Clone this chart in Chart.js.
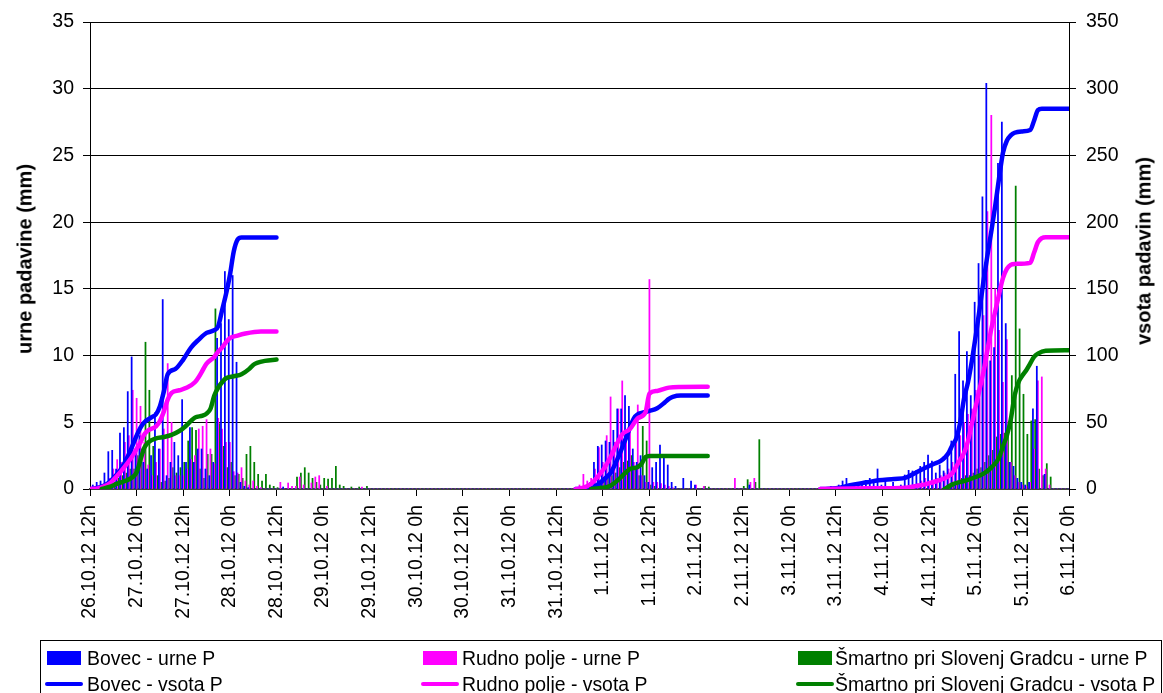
<!DOCTYPE html>
<html>
<head>
<meta charset="utf-8">
<script src="https://cdn.jsdelivr.net/npm/chart.js@4.4.1/dist/chart.umd.min.js"></script>
<style>
  html, body { margin: 0; padding: 0; background: #fff; }
  #wrap { position: relative; width: 1163px; height: 693px; overflow: hidden; background: #fff; }
  #c { position: absolute; left: 0; top: 0; }
  .vt { position: absolute; font: bold 20px "Liberation Sans", Arial, sans-serif; color: #000; white-space: nowrap;
        transform: translate(-50%, -50%) rotate(-90deg); }
  #legend { position: absolute; left: 40px; top: 640px; width: 1122px; height: 60px; border: 1px solid #000;
            box-sizing: border-box; font-family: "Liberation Sans", Arial, sans-serif; font-size: 19.4px; color: #000; }
  .li { position: absolute; white-space: nowrap; line-height: 20px; }
  .sw { position: absolute; }
</style>
</head>
<body>
<div id="wrap">
  <canvas id="c" width="1163" height="693"></canvas>
  <div class="vt" id="ytitle" style="left:25px; top:259px;"></div>
  <div class="vt" id="y2title" style="left:1144px; top:251px;"></div>
  <div id="legend"></div>
</div>
<script>
// ---------- DATA ----------
const tickLabels = ['26.10.12 12h','27.10.12 0h','27.10.12 12h','28.10.12 0h','28.10.12 12h','29.10.12 0h',
  '29.10.12 12h','30.10.12 0h','30.10.12 12h','31.10.12 0h','31.10.12 12h','1.11.12 0h','1.11.12 12h',
  '2.11.12 0h','2.11.12 12h','3.11.12 0h','3.11.12 12h','4.11.12 0h','4.11.12 12h','5.11.12 0h',
  '5.11.12 12h','6.11.12 0h'];

const seriesNames = ['Bovec - urne P','Rudno polje - urne P','Šmartno pri Slovenj Gradcu - urne P',
  'Bovec - vsota P','Rudno polje - vsota P','Šmartno pri Slovenj Gradcu - vsota P'];

const leftTitle = 'urne padavine (mm)';
const rightTitle = 'vsota padavin (mm)';

// hourly precipitation (mm), one value per hour from 26.10.12 12h to 6.11.12 0h
const bovecHourly = [
  0,0.3,0.5,0.6,1.2,2.8,2.9,1.5,4.2,4.6,7.3,9.9,
  3.0,4.0,2.0,1.5,2.5,5.7,3.0,14.2,1.0,2.0,3.5,2.5,
  6.7,2.0,4.6,2.0,3.0,3.0,1.5,1.0,2.0,11.3,12.4,16.3,
  12.7,16.0,9.5,0.5,0.2,0.1,0,0,0,0,0,0,
  0,0,0.15,0,0,0,0,0,0,0,0,0,
  0,0,0,0,0,0,0,0,0,0,0,0,
  0,0,0,0,0,0,0,0,0,0,0,0,
  0,0,0,0,0,0,0,0,0,0,0,0,
  0,0,0,0,0,0,0,0,0,0,0,0,
  0,0,0,0,0,0,0,0,0,0,0,0,
  0,0,0,0,0,0,0,0,0.2,0.5,2.0,3.2,
  3.3,3.6,3.5,4.4,6.0,6.0,7.0,6.2,3.0,2.0,2.5,1.0,
  0.5,1.6,2.0,3.3,2.4,1.8,0.5,0.2,0,0.8,0,0.6,
  0.3,0,0,0,0,0,0,0,0,0,0,0,
  0,0,0.3,0,0,0,0,0,0,0,0,0,
  0,0,0,0,0,0,0,0,0,0.1,0.1,0.2,
  0,0.3,0.6,0.8,0.3,0.2,0.3,0.4,0.65,0.8,0.7,1.5,
  0.3,0.6,0.2,0.5,0.2,0.3,1.05,1.4,1.35,1.4,1.7,2.0,
  2.55,2.1,1.2,1.8,1.35,2.5,3.6,8.6,11.8,8.1,10.3,7.0,
  14.0,16.9,21.9,30.4,9.6,10.6,24.4,27.5,12.4,2.0,1.7,0.8,
  0.5,0.3,0.5,6.0,9.2,0,1.1,0,0,0,0,0,
  0
];
const rudnoHourly = [
  0,0.1,0.2,0.3,0.4,0.8,1.5,2.2,2.0,3.5,4.0,7.4,
  6.8,6.2,3.5,1.8,1.0,2.0,3.0,4.5,9.4,5.0,1.0,1.0,
  1.0,1.5,2.2,2.5,4.5,4.7,5.2,3.0,1.9,5.3,4.5,3.5,
  3.5,1.3,1.2,1.6,0.6,0.3,0.6,0.2,0.1,0,0,0,
  0,0.5,0,0.45,0.2,0.2,0.9,0.3,0,0.45,0.9,1.0,
  0,0.2,0,0,0,0,0,0,0,0,0.15,0,
  0,0,0,0,0,0,0,0,0,0,0,0,
  0,0,0,0,0,0,0,0,0,0,0,0,
  0,0,0,0,0,0,0,0,0,0,0,0,
  0,0,0,0,0,0,0,0,0,0,0,0,
  0,0,0,0,0,0,0.3,1.1,0.6,0.8,1.5,3.1,
  2.0,4.0,6.9,3.5,6.0,8.1,4.0,4.5,2.0,6.3,1.0,0.5,
  15.7,0.5,0.5,0.4,0.3,0.2,0.1,0,0,0,0,0,
  0.3,0,0.2,0,0,0,0,0,0,0,0.8,0,
  0,0,0.5,0.8,0,0,0,0,0,0,0,0,
  0,0,0,0,0,0,0,0,0,0,0,0,
  0,0,0,0,0,0,0,0,0,0,0,0,
  0,0,0,0,0,0,0,0.2,0.3,0.4,0.6,0.8,
  0.6,0.5,0.8,1.0,1.2,1.5,2.0,3.5,4.0,5.0,5.6,6.0,
  7.4,10.0,13.0,20.8,28.0,15.0,11.9,8.0,11.2,2.0,1.0,0.5,
  0.3,0.2,0.5,3.0,8.1,8.4,1.5,0.3,0,0,0,0,
  0
];
const smartnoHourly = [
  0,0,0,0,0.2,0.3,0.5,0.8,1.0,1.2,1.5,1.5,
  2.5,3.0,11.0,7.4,3.2,1.0,0.5,0.6,0.8,1.6,1.2,1.6,
  2.0,3.6,4.6,4.4,1.5,0.8,2.6,2.6,13.5,4.9,3.2,1.6,
  2.0,1.0,1.1,0.8,2.6,3.2,2.0,1.1,0.6,1.1,0.3,0.2,
  0.1,0,0,0,0,0.9,1.2,1.6,1.2,0.8,0.5,0.3,
  0.8,0.75,0.8,1.7,0.3,0.2,0,0.15,0,0.15,0,0.2,
  0,0,0,0,0,0,0,0,0,0,0,0,
  0,0,0,0,0,0,0,0,0,0,0,0,
  0,0,0,0,0,0,0,0,0,0,0,0,
  0,0,0,0,0,0,0,0,0,0,0,0,
  0,0,0,0,0,0,0,0,0,0,0,0.3,
  0.5,0.8,1.0,1.2,1.6,2.0,2.1,2.5,1.6,1.0,4.7,3.6,
  0.3,0.2,0,0,0,0,0,0,0,0,0,0,
  0,0,0.2,0.15,0,0,0,0,0,0,0,0,
  0.2,0.7,0,0.5,3.7,0,0,0,0,0,0,0,
  0,0,0,0,0,0,0,0,0,0,0,0,
  0,0,0,0,0,0,0,0,0,0,0,0,
  0,0,0,0,0,0,0,0,0,0,0,0,
  0,0,0,0,0,0.3,0.5,0.6,0.8,1.0,1.0,1.2,
  1.5,1.6,2.0,2.5,2.9,3.9,4.1,4.2,4.4,8.5,22.7,12.0,
  7.1,4.1,5.1,5.2,1.5,1.0,1.9,0.9,0,0,0,0,
  0
];

// cumulative precipitation (mm): [hour since 26.10.12 12h, value]; null = no line
const bovecSum = [
  [0,0],[2,1],[4,3],[6,8],[8,15],[10,26],[12,40],[13,46],[14,50],[16,54],[17,56],[18,62],[19,73],[20,86],
  [22,90],[24,97],[26,106],[28,112],[30,117],[32,119],[33,122],[34,134],[35,146],[36,160],[37,178],
  [38,187],[39,188.5],[48,188.5],[86,null],
  [125,0],[129,0.5],[131,4],[133,9],[134,12],[136,24],[138,38.5],[140,53],[141,56],[142,57],[144,58.5],
  [146,60.5],[148,65],[149,67.5],[150,69],[152,70],[159,70],[170,null],
  [188,0],[192,0.5],[196,3],[200,5],[203,6.5],[207,7.5],[210,8.5],[213,13],[217,18.5],[219,21],[220,23.5],
  [221,27],[222,33],[223,38],[224,50],[225,68],[226,80],[227,96],[228,115],[229,135],[230,156],[231,175],
  [232,193],[233,212],[234,233],[235,252],[236,261],[237,265],[238,267],[240,268],[242,269],[243,276],
  [244,284],[245,285],[252,285]
];
const rudnoSum = [
  [0,0],[2,0.5],[5,4],[7,10],[9,17],[11,25],[12,30],[13,35],[14,41],[15,44],[17,47],[18,51],[19,58],
  [20,67],[21,72],[23,74],[25,76],[27,80],[28,84],[29,89],[30,94],[32,99],[33,103],[34,106],[35,110],
  [36,113],[38,115],[40,116.5],[44,118],[48,118],[86,null],
  [125,0],[127,1],[129,4],[130,7],[132,14],[134,24],[135,30],[137,41],[139,45],[141,53],[143,57.5],
  [144,71.5],[146,73.5],[149,76],[152,76.5],[159,76.6],[170,null],
  [188,0],[200,0.5],[210,1],[213,2.5],[215,3.5],[218,6],[220,8],[222,12],[223,17],[224,22],[225,27],
  [226,36],[227,49],[228,62],[229,75],[230,88],[231,104],[232,120],[233,133],[234,146],[235,158],
  [236,165],[237,168],[238,168.7],[242,169.5],[243,177],[244,185],[245,188],[246,188.7],[252,188.7]
];
const smartnoSum = [
  [3,0],[5,1.5],[7,4],[9,6],[11,9],[12,12.5],[13,22],[14,31],[15,35],[17,38],[19,39],[21,40.5],[23,43.5],
  [24,45.5],[26,51],[27,53.5],[29,55],[30,56.5],[31,60],[32,70],[33,76],[34,80],[35,83],[37,84.5],
  [39,86],[41,90],[42,93],[43,94.5],[45,96],[48,97],[86,null],
  [129,0],[131,0.5],[134,2.5],[136,7],[139,15],[141,16.5],[142,19],[143,24],[144,24.8],[159,24.8],[170,null],
  [220,0],[222,3.5],[225,6],[228,9],[230,11.5],[232,16],[234,23.5],[235,32],[236,40],[237,52],[238,70],
  [239,80],[240,85],[241,89],[242,94],[243,99],[244,101.5],[246,103.6],[252,104]
];

// ---------- BUILD ----------
const BLUE = '#0000FF', MAGENTA = '#FF00FF', GREEN = '#008000';
const FONT = '"Liberation Sans", Arial, sans-serif';
const hours = bovecHourly.map((_, i) => i);
const toXY = arr => arr.map(([x, y]) => ({ x, y }));

document.getElementById('ytitle').textContent = leftTitle;
document.getElementById('y2title').textContent = rightTitle;

const barCommon = { type: 'bar', yAxisID: 'y', barThickness: 1.1, order: 10, borderWidth: 0 };
const lineCommon = { type: 'line', yAxisID: 'y2', borderWidth: 4.5, pointRadius: 0, fill: false,
  spanGaps: false, cubicInterpolationMode: 'monotone', borderCapStyle: 'round', borderJoinStyle: 'round' };

new Chart(document.getElementById('c'), {
  type: 'bar',
  data: {
    labels: hours,
    datasets: [
      { ...barCommon, label: seriesNames[0], data: bovecHourly, backgroundColor: BLUE },
      { ...barCommon, label: seriesNames[1], data: rudnoHourly, backgroundColor: MAGENTA },
      { ...barCommon, label: seriesNames[2], data: smartnoHourly, backgroundColor: GREEN },
      { ...lineCommon, label: seriesNames[3], data: toXY(bovecSum), borderColor: BLUE, order: 3 },
      { ...lineCommon, label: seriesNames[4], data: toXY(rudnoSum), borderColor: MAGENTA, order: 2 },
      { ...lineCommon, label: seriesNames[5], data: toXY(smartnoSum), borderColor: GREEN, order: 1 }
    ]
  },
  options: {
    responsive: false,
    animation: false,
    devicePixelRatio: 1,
    events: [],
    layout: { padding: { top: 22, left: 0, right: 0, bottom: 0 } },
    plugins: { legend: { display: false }, tooltip: { enabled: false }, title: { display: false } },
    scales: {
      x: {
        type: 'linear', min: 0, max: 252, offset: false,
        ticks: {
          stepSize: 12, autoSkip: false, maxRotation: 90, minRotation: 90, padding: 9, color: '#000',
          font: { family: FONT, size: 19.5 },
          callback: v => (v % 12 === 0 ? tickLabels[v / 12] : '')
        },
        grid: { display: true, offset: false, drawOnChartArea: false, drawTicks: true, tickLength: 7, color: '#000' },
        border: { display: true, color: '#444', width: 2 },
        afterFit: s => { s.height = 693 - 489; }
      },
      y: {
        position: 'left', min: 0, max: 35,
        ticks: { stepSize: 5, padding: 9, color: '#000', font: { family: FONT, size: 19.5 } },
        grid: { color: '#000', tickLength: 7, drawTicks: true },
        border: { display: true, color: '#000' },
        afterFit: s => { s.width = 90; }
      },
      y2: {
        position: 'right', min: 0, max: 350,
        ticks: { stepSize: 50, padding: 10, color: '#000', font: { family: FONT, size: 19.5 } },
        grid: { drawOnChartArea: false, tickLength: 7, drawTicks: true, color: '#000' },
        border: { display: true, color: '#000' },
        afterFit: s => { s.width = 94; }
      }
    }
  }
});

// ---------- LEGEND (HTML, real text) ----------
const legendColors = [BLUE, MAGENTA, GREEN, BLUE, MAGENTA, GREEN];
const colX = [6, 382, 757];
const textX = [46, 421, 794];
const rowY = [17, 43];
const legend = document.getElementById('legend');
seriesNames.forEach((name, i) => {
  const col = i % 3, row = Math.floor(i / 3);
  const sw = document.createElement('div');
  sw.className = 'sw';
  if (row === 0) {
    Object.assign(sw.style, { left: colX[col] + 'px', top: (rowY[row] - 7) + 'px', width: '34px', height: '14px', background: legendColors[i] });
  } else {
    Object.assign(sw.style, { left: (colX[col] - 2) + 'px', top: (rowY[row] - 2) + 'px', width: '38px', height: '4px', borderRadius: '2px', background: legendColors[i] });
  }
  legend.appendChild(sw);
  const t = document.createElement('div');
  t.className = 'li';
  t.textContent = name;
  Object.assign(t.style, { left: textX[col] + 'px', top: (rowY[row] - 10) + 'px' });
  legend.appendChild(t);
});
</script>
</body>
</html>
